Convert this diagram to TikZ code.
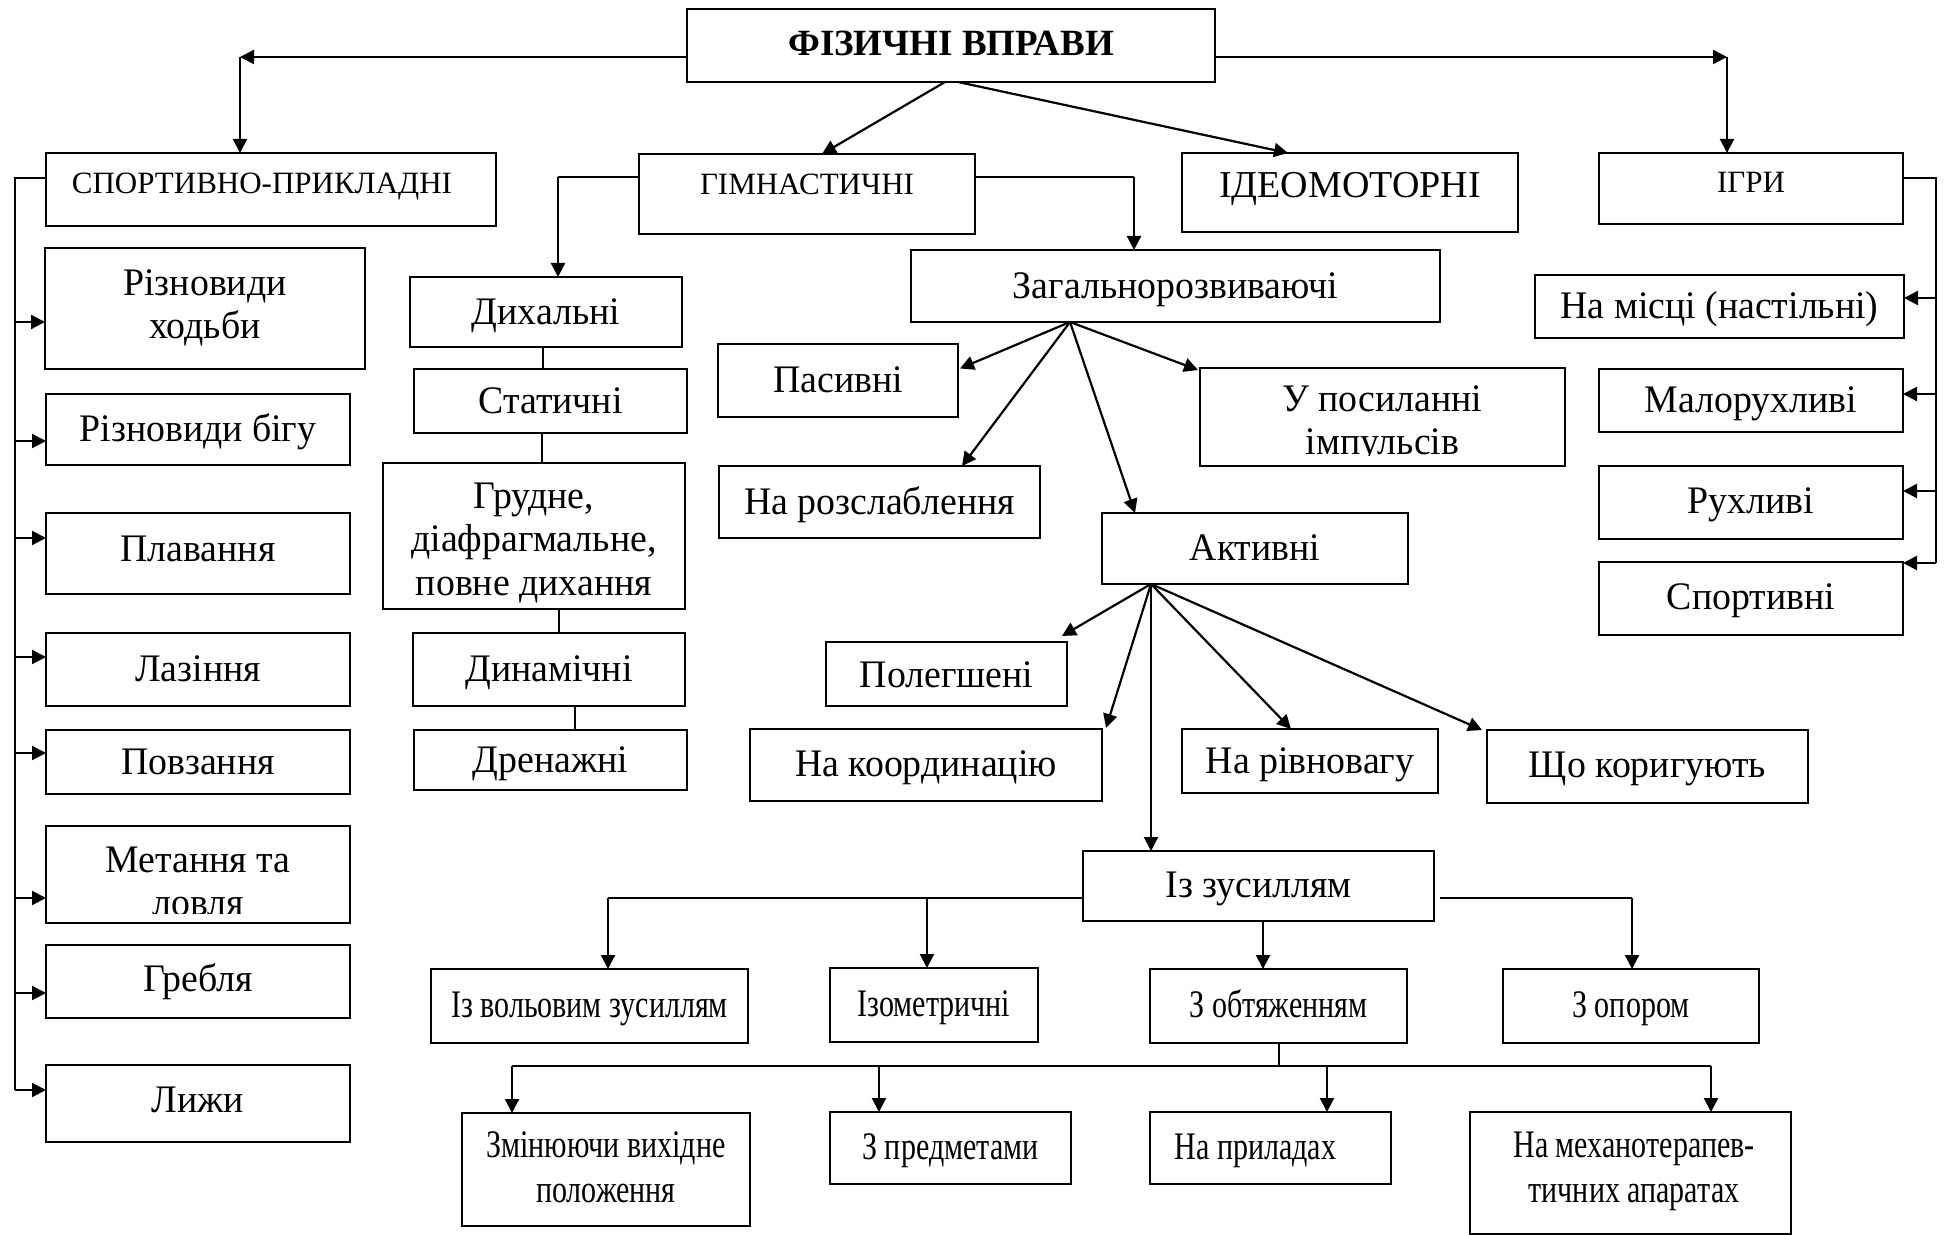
\documentclass[tikz,border=0pt]{standalone}
\usepackage{fontspec}
\setmainfont{Liberation Serif}
\newfontfamily\bodyf[FakeStretch=0.97]{Liberation Serif}
\newfontfamily\cnd[FakeStretch=0.77]{Liberation Serif}
\usetikzlibrary{arrows.meta,calc}
\newcommand\mkbox[7]{\node[#6,minimum width={(#4-#2)*0.5pt},minimum height={(#5-#3)*0.5pt}] (#1) at ({(#2+#4)/2},{(#3+#5)/2}) {#7};}
\tikzset{
 frame/.style={draw, line width=1pt, inner sep=0pt, outer sep=0pt},
 box/.style={frame, font=\bodyf\fontsize{19.5pt}{21.5pt}\selectfont, text height=13.65pt, text depth=1.2pt},
 cbox/.style={box, font=\cnd\fontsize{19.5pt}{21.5pt}\selectfont},
 capbox/.style={frame, font=\fontsize{15.5pt}{18pt}\selectfont, text height=10.5pt, text depth=6.6pt},
 mbox/.style={frame},
 mtxt/.style={align=center, inner sep=0pt, font=\bodyf\fontsize{19.5pt}{21.7pt}\selectfont},
 cmtxt/.style={mtxt, font=\cnd\fontsize{19.5pt}{22.5pt}\selectfont},
 arr/.style={line width=1.1pt, -{Triangle[length=7pt,width=7pt]}},
 ln/.style={line width=1.1pt},
}
\begin{document}
\begin{tikzpicture}[x=0.5pt,y=-0.5pt]
\fill[white] (0,0) rectangle (1944,1235);
\useasboundingbox (0,0) rectangle (1944,1235);

% top level
\mkbox{fiz}{687}{9}{1215}{82}{frame, font=\bfseries\fontsize{18.5pt}{20pt}\selectfont, text height=13pt, text depth=2.6pt}{ФІЗИЧНІ ВПРАВИ}
\mkbox{sport}{46}{153}{496}{226}{capbox}{СПОРТИВНО-ПРИКЛАДНІ\hspace*{9pt}}
\mkbox{gym}{639}{154}{975}{234}{capbox, text depth=9.6pt}{ГІМНАСТИЧНІ}
\mkbox{ideo}{1182}{153}{1518}{232}{frame, font=\fontsize{19pt}{21pt}\selectfont, text height=13.5pt, text depth=8.4pt}{ІДЕОМОТОРНІ}
\mkbox{igry}{1599}{153}{1903}{224}{capbox}{ІГРИ}

% left column
\mkbox{hod}{45}{248}{365}{369}{mbox}{}
\node[mtxt] (hodt) at (205,308) {Різновиди\\ходьби};
\mkbox{bih}{46}{394}{350}{465}{box}{Різновиди бігу}
\mkbox{plav}{46}{513}{350}{594}{box, text depth=5.2pt}{Плавання}
\mkbox{laz}{46}{633}{350}{706}{box}{Лазіння}
\mkbox{povz}{46}{730}{350}{794}{box}{Повзання}
\mkbox{metan}{46}{826}{350}{923}{mbox}{}
\begin{scope}
\clip (metan.north west) rectangle ($(metan.south east)+(0,-10)$);
\node[mtxt] (metant) at (198,881.5) {Метання та\\ловля};
\end{scope}
\mkbox{grebl}{46}{945}{350}{1018}{box, text depth=3.2pt}{Гребля}
\mkbox{lyzhi}{46}{1065}{350}{1142}{box, text depth=4.2pt}{Лижи}

% breathing column
\mkbox{dyh}{410}{277}{682}{347}{box}{Дихальні}
\mkbox{stat}{414}{369}{687}{433}{box}{Статичні}
\mkbox{grud}{383}{463}{685}{609}{mbox}{}
\node[mtxt] (grudt) at (534,543) {Грудне,\\діафрагмальне,\\повне дихання};
\mkbox{dyn}{413}{633}{685}{706}{box}{Динамічні}
\mkbox{dren}{414}{730}{687}{790}{box}{Дренажні}

% general developing
\mkbox{zag}{911}{250}{1440}{322}{box}{Загальнорозвиваючі}
\mkbox{pas}{718}{344}{958}{417}{box}{Пасивні}
\mkbox{rozsl}{719}{466}{1040}{538}{box}{На розслаблення}
\mkbox{posyl}{1200}{368}{1565}{466}{mbox}{}
\begin{scope}
\clip (posyl.north west) rectangle ($(posyl.south east)+(0,-10)$);
\node[mtxt] (posylt) at (1382.5,424) {У посиланні\\імпульсів};
\end{scope}
\mkbox{akt}{1102}{513}{1408}{584}{box}{Активні}
\mkbox{poleg}{826}{642}{1067}{706}{box, text depth=-0.4pt}{Полегшені}
\mkbox{koord}{750}{729}{1102}{801}{box, text depth=2.6pt}{На координацію}
\mkbox{rivn}{1182}{729}{1438}{793}{box}{На рівновагу}
\mkbox{koryg}{1487}{730}{1808}{803}{box, text depth=2.6pt}{Що коригують}
\mkbox{zus}{1083}{851}{1434}{921}{box, text depth=2.6pt}{Із зусиллям}
\mkbox{volov}{431}{969}{748}{1043}{cbox, text depth=2.6pt}{Із вольовим зусиллям}
\mkbox{izom}{830}{968}{1038}{1042}{cbox, text depth=2.6pt}{Ізометричні}
\mkbox{obt}{1150}{969}{1407}{1043}{cbox, text depth=2.6pt}{З обтяженням}
\mkbox{opor}{1503}{969}{1759}{1043}{cbox, text depth=2.6pt}{З опором}
\mkbox{zmin}{462}{1113}{750}{1226}{mbox}{}
\node[cmtxt] (zmint) at (606,1167) {Змінюючи вихідне\\положення};
\mkbox{predm}{830}{1112}{1071}{1184}{cbox, text depth=2.6pt}{З предметами}
\mkbox{prylad}{1150}{1112}{1391}{1184}{cbox, text depth=2.6pt}{На приладах\hspace*{15pt}}
\mkbox{mekh}{1470}{1112}{1791}{1234}{mbox}{}
\node[cmtxt] (mekht) at (1634,1171) {На механотерапев-\\тичних апаратах};

% games
\mkbox{mis}{1535}{275}{1904}{338}{box}{На місці (настільні)}
\mkbox{malo}{1599}{369}{1903}{432}{box}{Малорухливі}
\mkbox{rukh}{1599}{466}{1903}{539}{box, text depth=2.6pt}{Рухливі}
\mkbox{sprt}{1599}{562}{1903}{635}{box, text depth=2.6pt}{Спортивні}

% ---- connectors: top level
\coordinate (cL) at (240,57);
\coordinate (cR) at (1727,57);
\draw[arr] (fiz.west |- cL) -- (cL);
\draw[arr] (cL) -- (sport.north -| cL);
\draw[arr] (fiz.east |- cR) -- (cR);
\draw[arr] (cR) -- (igry.north -| cR);
\draw[arr] ($(fiz.south west)+(258,0)$) -- ($(gym.north west)+(183,0)$);
\draw[arr] ($(fiz.south west)+(271,0)$) -- ($(ideo.north west)+(106,0)$);

% sport-applied bus
\coordinate (lv) at (15,178);
\coordinate (lb1) at (15,322);
\coordinate (lb2) at (15,441);
\coordinate (lb3) at (15,538);
\coordinate (lb4) at (15,657);
\coordinate (lb5) at (15,753);
\coordinate (lb6) at (15,898);
\coordinate (lb7) at (15,993);
\coordinate (lb8) at (15,1090);
\draw[ln] (sport.west |- lv) -- (lv) -- (lb8);
\draw[arr] (lb1) -- (hod.west |- lb1);
\draw[arr] (lb2) -- (bih.west |- lb2);
\draw[arr] (lb3) -- (plav.west |- lb3);
\draw[arr] (lb4) -- (laz.west |- lb4);
\draw[arr] (lb5) -- (povz.west |- lb5);
\draw[arr] (lb6) -- (metan.west |- lb6);
\draw[arr] (lb7) -- (grebl.west |- lb7);
\draw[arr] (lb8) -- (lyzhi.west |- lb8);

% gymnastic
\coordinate (gl) at (558,177);
\coordinate (gr) at (1134,177);
\draw[ln] (gym.west |- gl) -- (gl);
\draw[arr] (gl) -- (gl |- dyh.north);
\draw[ln] (gym.east |- gr) -- (gr);
\draw[arr] (gr) -- (gr |- zag.north);

% breathing chain
\coordinate (k1) at (543,0);
\coordinate (k2) at (542,0);
\coordinate (k3) at (559,0);
\coordinate (k4) at (575,0);
\draw[ln] (dyh.south -| k1) -- (stat.north -| k1);
\draw[ln] (stat.south -| k2) -- (grud.north -| k2);
\draw[ln] (grud.south -| k3) -- (dyn.north -| k3);
\draw[ln] (dyn.south -| k4) -- (dren.north -| k4);

% general developing fan
\coordinate (zs) at ($(zag.south west)+(159,0)$);
\draw[arr] (zs) -- ($(pas.east)+(2,-12)$);
\draw[arr] (zs) -- ($(rozsl.north west)+(243,0)$);
\draw[arr] (zs) -- ($(akt.north west)+(33,0)$);
\draw[arr] (zs) -- ($(posyl.north west)+(-2,2)$);

% active fan
\coordinate (as) at ($(akt.south west)+(49,0)$);
\draw[arr] (as) -- ($(poleg.north east)+(-5,-6)$);
\draw[arr] (as) -- ($(koord.north east)+(4,-1)$);
\draw[arr] (as) -- ($(rivn.north west)+(109,0)$);
\draw[arr] (as) -- ($(koryg.north west)+(-5,0)$);
\draw[arr] (as) -- (as |- zus.north);

% with effort
\coordinate (zl1) at (608,898);
\coordinate (zl2) at (927,898);
\coordinate (zr) at (1632,898);
\coordinate (zd) at (1263,921);
\draw[ln] (zus.west |- zl1) -- (zl1);
\draw[arr] (zl1) -- (zl1 |- volov.north);
\draw[arr] (zl2) -- (zl2 |- izom.north);
\draw[ln] ($(zus.east |- zr)+(6,0)$) -- (zr);
\draw[arr] (zr) -- (zr |- opor.north);
\draw[arr] (zus.south -| zd) -- (obt.north -| zd);

% loaded
\coordinate (ob) at (1279,1066);
\coordinate (h1) at (512,1066);
\coordinate (h2) at (879,1066);
\coordinate (h3) at (1327,1066);
\coordinate (h4) at (1711,1066);
\draw[ln] (obt.south -| ob) -- (ob);
\draw[ln] (h1) -- (h4);
\draw[arr] (h1) -- (h1 |- zmin.north);
\draw[arr] (h2) -- (h2 |- predm.north);
\draw[arr] (h3) -- (h3 |- prylad.north);
\draw[arr] (h4) -- (h4 |- mekh.north);

% games bus
\coordinate (rv) at (1936,178);
\coordinate (rb1) at (1936,298);
\coordinate (rb2) at (1936,394);
\coordinate (rb3) at (1936,491);
\coordinate (rb4) at (1936,563);
\draw[ln] (igry.east |- rv) -- (rv) -- (rb4);
\draw[arr] (rb1) -- (mis.east |- rb1);
\draw[arr] (rb2) -- (malo.east |- rb2);
\draw[arr] (rb3) -- (rukh.east |- rb3);
\draw[arr] (rb4) -- (sprt.east |- rb4);
\end{tikzpicture}
\end{document}
